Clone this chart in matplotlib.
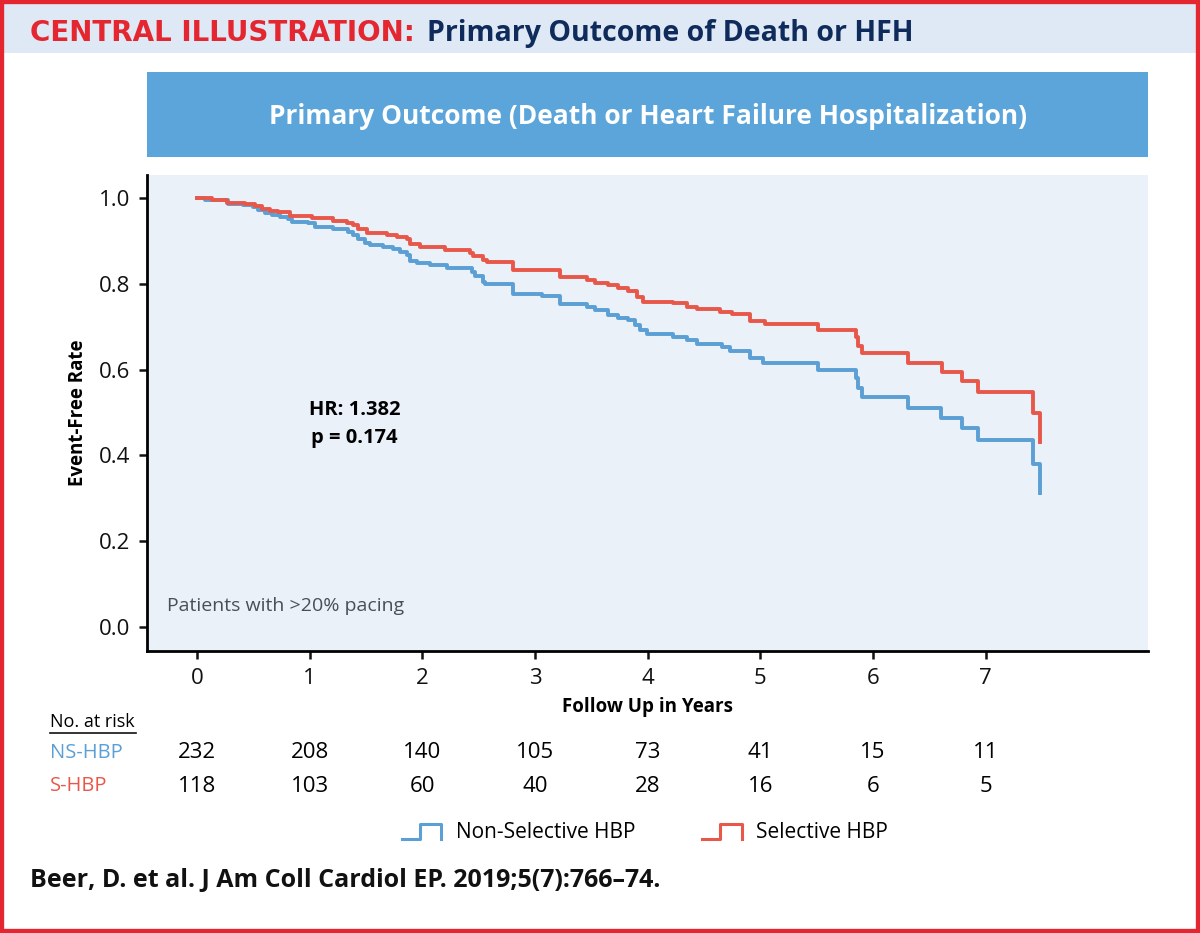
import matplotlib
matplotlib.use('Agg')
import matplotlib.pyplot as plt
import matplotlib.transforms as mtransforms
from matplotlib.patches import Rectangle
from matplotlib.lines import Line2D
from matplotlib.legend_handler import HandlerBase

plt.rcParams['font.family'] = ['Open Sans', 'DejaVu Sans']

# Kaplan-Meier steps: (year of step, rate after step)
ns_years = [0, 0.071, 0.275, 0.408, 0.497, 0.541, 0.603, 0.665, 0.736, 0.807, 0.843,
            0.985, 1.047, 1.207, 1.340, 1.384, 1.429, 1.491, 1.535, 1.650, 1.739,
            1.801, 1.863, 1.890, 1.952, 2.067, 2.218, 2.440, 2.467, 2.538, 2.556,
            2.804, 3.061, 3.221, 3.461, 3.531, 3.647, 3.736, 3.824, 3.886, 3.931,
            3.993, 4.224, 4.348, 4.437, 4.658, 4.729, 4.907, 5.022, 5.510, 5.847,
            5.865, 5.901, 6.309, 6.602, 6.788, 6.930, 7.418, 7.480]
ns_rate = [1.0, 0.995, 0.986, 0.984, 0.979, 0.972, 0.965, 0.960, 0.956, 0.951, 0.944,
           0.942, 0.932, 0.928, 0.921, 0.914, 0.904, 0.895, 0.890, 0.886, 0.881,
           0.874, 0.867, 0.853, 0.848, 0.844, 0.837, 0.828, 0.818, 0.804, 0.800,
           0.776, 0.772, 0.753, 0.746, 0.739, 0.727, 0.720, 0.716, 0.704, 0.692,
           0.683, 0.676, 0.669, 0.660, 0.653, 0.643, 0.627, 0.615, 0.599, 0.580,
           0.557, 0.536, 0.510, 0.487, 0.464, 0.436, 0.380, 0.312]

s_years = [0, 0.133, 0.266, 0.426, 0.515, 0.577, 0.648, 0.719, 0.825, 1.020, 1.207,
           1.331, 1.384, 1.429, 1.508, 1.686, 1.775, 1.863, 1.890, 1.979, 2.201,
           2.422, 2.449, 2.538, 2.573, 2.804, 3.221, 3.461, 3.531, 3.647, 3.736,
           3.824, 3.904, 3.957, 4.224, 4.348, 4.437, 4.641, 4.747, 4.907, 5.040,
           5.510, 5.847, 5.865, 5.901, 6.309, 6.610, 6.788, 6.930, 7.418, 7.480]
s_rate = [1.0, 0.995, 0.988, 0.986, 0.981, 0.974, 0.969, 0.967, 0.958, 0.953, 0.946,
          0.943, 0.937, 0.928, 0.918, 0.914, 0.909, 0.904, 0.893, 0.886, 0.879,
          0.872, 0.865, 0.855, 0.851, 0.832, 0.816, 0.809, 0.802, 0.797, 0.790,
          0.783, 0.769, 0.757, 0.755, 0.746, 0.741, 0.734, 0.730, 0.713, 0.706,
          0.692, 0.676, 0.655, 0.639, 0.615, 0.594, 0.573, 0.548, 0.499, 0.431]

risk_years = [0, 1, 2, 3, 4, 5, 6, 7]
ns_risk = [232, 208, 140, 105, 73, 41, 15, 11]
s_risk = [118, 103, 60, 40, 28, 16, 6, 5]

blue = '#5b9fd5'
red = '#e8584a'
navy = '#0f2b5b'
border_red = '#e3262f'


class HandlerStep(HandlerBase):
    def create_artists(self, legend, orig_handle, xdescent, ydescent, width, height, fontsize, trans):
        xs = [0, width * 0.45, width * 0.45, width, width]
        ys = [0, 0, height, height, 0]
        ln = Line2D([x - xdescent for x in xs], [y - ydescent for y in ys],
                    color=orig_handle.get_color(), lw=2.2, transform=trans)
        return [ln]


fig = plt.figure(figsize=(12, 9.33), dpi=100)
W, H = 1200, 933

# outer border and header band
fig.patches.append(Rectangle((0, 0), 1, 1, transform=fig.transFigure, fill=False,
                             edgecolor=border_red, lw=6, zorder=10))
fig.patches.append(Rectangle((0, 1 - 53 / H), 1, 53 / H, transform=fig.transFigure,
                             facecolor='#dfe8f5', edgecolor='none', zorder=0))
t1 = fig.text(30 / W, 1 - 33 / H, 'CENTRAL ILLUSTRATION:', color=border_red,
              fontsize=20, fontweight='bold', va='center', ha='left',
              family='DejaVu Sans')
fig.canvas.draw()
bb = t1.get_window_extent()
fig.text((bb.x1 + 12) / W, 1 - 33 / H, 'Primary Outcome of Death or HFH', color=navy,
         fontsize=20.5, fontweight='bold', va='center', ha='left')

# blue banner
fig.patches.append(Rectangle((147 / W, 1 - 157 / H), 1001 / W, 85 / H,
                             transform=fig.transFigure, facecolor='#5ba5da',
                             edgecolor='none', zorder=1))
fig.text(648 / W, 1 - 116 / H, 'Primary Outcome (Death or Heart Failure Hospitalization)',
         color='white', fontsize=19, fontweight='bold', ha='center', va='center')

ax = fig.add_axes([147 / W, 1 - 651 / H, 1001 / W, 476 / H])
ax.set_facecolor('#eaf1f9')
ax.step(ns_years, ns_rate, where='post', color=blue, lw=2.8, label='Non-Selective HBP')
ax.step(s_years, s_rate, where='post', color=red, lw=2.8, label='Selective HBP')

ax.set_xlim(-0.444, 8.44)
ax.set_ylim(-0.056, 1.054)
ax.set_xticks(risk_years)
ax.set_yticks([0.0, 0.2, 0.4, 0.6, 0.8, 1.0])
ax.set_yticklabels(['0.0', '0.2', '0.4', '0.6', '0.8', '1.0'])
ax.tick_params(axis='both', labelsize=16, length=6, width=1.8, direction='out', pad=6,
               colors='#111111')
for side in ['top', 'right']:
    ax.spines[side].set_visible(False)
for side in ['left', 'bottom']:
    ax.spines[side].set_linewidth(2)
ax.set_ylabel('Event-Free Rate', fontsize=13.5, fontweight='bold', labelpad=8)
ax.set_xlabel('Follow Up in Years', fontsize=13.5, fontweight='bold', labelpad=6)

ax.text(1.4, 0.505, 'HR: 1.382', ha='center', va='center', fontsize=14.5, fontweight='bold')
ax.text(1.4, 0.441, 'p = 0.174', ha='center', va='center', fontsize=14.5, fontweight='bold')
ax.text(-0.27, 0.05, 'Patients with >20% pacing', ha='left', va='center', fontsize=14,
        color='#4a4f56')

# number at risk table
tr = mtransforms.blended_transform_factory(ax.transData, fig.transFigure)
fig.text(50 / W, 1 - 722 / H, 'No. at risk', fontsize=13, ha='left', va='center')
fig.add_artist(Line2D([50 / W, 136 / W], [1 - 733 / H, 1 - 733 / H], color='#111111', lw=1.2))
fig.text(50 / W, 1 - 753 / H, 'NS-HBP', fontsize=14.5, color=blue, ha='left', va='center')
fig.text(50 / W, 1 - 786 / H, 'S-HBP', fontsize=14.5, color=red, ha='left', va='center')
for x, a, b in zip(risk_years, ns_risk, s_risk):
    fig.text(x, 1 - 753 / H, str(a), transform=tr, fontsize=16, ha='center', va='center')
    fig.text(x, 1 - 786 / H, str(b), transform=tr, fontsize=16, ha='center', va='center')

handles, labels = ax.get_legend_handles_labels()
fig.legend(handles, labels, loc='center', bbox_to_anchor=(645 / W, 1 - 833 / H), ncol=2,
           frameon=False, fontsize=15, handler_map={h: HandlerStep() for h in handles},
           handlelength=1.9, handletextpad=0.7, columnspacing=3.2)

fig.text(30 / W, 1 - 880 / H, 'Beer, D. et al. J Am Coll Cardiol EP. 2019;5(7):766\u201374.',
         fontsize=18, fontweight='bold', ha='left', va='center', color='#111111')

fig.savefig('out.png', dpi=100)
